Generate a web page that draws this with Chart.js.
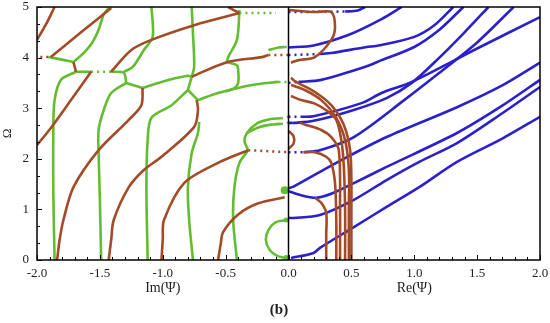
<!DOCTYPE html>
<html>
<head>
<meta charset="utf-8">
<script src="https://cdn.jsdelivr.net/npm/chart.js@4"></script>
<style>
  html, body { margin: 0; padding: 0; background: #fff; }
  #wrap { width: 550px; height: 323px; }
</style>
</head>
<body>
<div id="wrap"><canvas id="dispChart" width="550" height="323"></canvas></div>
<script>
// tick labels
const xTicks = [-2, -1.5, -1, -0.5, 0, 0.5, 1, 1.5, 2];
const yTicks = [0, 1, 2, 3, 4, 5];

// Im(Psi) side, green branches  [Im, Omega]
const imG1 = [[-1.86, 0], [-1.87, 1.3], [-1.87, 2.6], [-1.86, 3.16], [-1.81, 3.56], [-1.69, 3.72]];
const imG1c = [[-1.71, 3.91], [-1.8, 3.96], [-1.91, 4.01]];
const imG1d = [[-1.71, 3.91], [-1.63, 4.09], [-1.56, 4.3], [-1.51, 4.55], [-1.47, 4.85], [-1.43, 4.98]];
const imGg = [[-1.69, 3.72], [-1.57, 3.72]];
const imGj = [[-1.41, 3.72], [-1.31, 3.7], [-1.29, 3.5]];
const imG2 = [[-1.49, 0], [-1.5, 1.2], [-1.51, 2.11], [-1.51, 2.57], [-1.47, 2.96], [-1.41, 3.3], [-1.29, 3.5]];
const imGm = [[-1.29, 3.5], [-1.16, 3.4]];
const imGn = [[-1.16, 3.4], [-1.01, 3.52], [-0.8, 3.64], [-0.77, 3.62]];
const imG3 = [[-1.12, 0], [-1.13, 1.44], [-1.12, 2.37], [-1.09, 2.81], [-0.93, 3.06], [-0.8, 3.36]];
const imG3u = [[-1.09, 5.0], [-1.08, 4.41], [-1.15, 4.15], [-1.24, 3.81], [-1.31, 3.72]];
const imG4u = [[-0.77, 5.0], [-0.76, 4.49], [-0.75, 3.82], [-0.77, 3.62], [-0.8, 3.36]];
const imG4link = [[-0.8, 3.36], [-0.72, 3.16]];
const imGright = [[-0.72, 3.16], [-0.56, 3.3], [-0.29, 3.46], [-0.08, 3.52]];
const imG4l = [[-0.76, 0], [-0.79, 0.79], [-0.8, 1.44], [-0.77, 2.11], [-0.72, 2.51], [-0.71, 2.73]];
const imG5 = [[-0.41, 0], [-0.44, 0.79], [-0.43, 1.44], [-0.39, 1.92], [-0.32, 2.17]];
const imGfan1 = [[-0.32, 2.17], [-0.35, 2.35], [-0.33, 2.51], [-0.25, 2.7], [-0.15, 2.78], [-0.06, 2.8]];
const imGfan2 = [[-0.33, 2.51], [-0.24, 2.62], [-0.15, 2.67], [-0.06, 2.69]];
const imGtopR = [[-0.39, 4.94], [-0.41, 4.35], [-0.48, 4.01], [-0.49, 3.91]];
const imGloop = [[-0.49, 3.91], [-0.41, 3.85], [-0.4, 3.75], [-0.4, 3.5], [-0.43, 3.4], [-0.5, 3.33]];
const imGshort = [[-0.16, 4.15], [-0.08, 4.2], [-0.03, 4.21]];
const imCircle = [[0, 0.79], [-0.1, 0.75], [-0.16, 0.59], [-0.18, 0.4], [-0.15, 0.2], [-0.09, 0.08], [-0.02, 0.04]];

// Im(Psi) side, brown (complex) branches
const imBA = [[-2.0, 2.27], [-1.89, 2.61], [-1.73, 3.16], [-1.57, 3.72]];
const imBB = [[-1.84, 0], [-1.82, 0.4], [-1.79, 0.79], [-1.71, 1.44], [-1.51, 2.17], [-1.27, 2.77], [-1.17, 3.06], [-1.16, 3.4]];
const imBD = [[-1.43, 0], [-1.41, 0.4], [-1.39, 0.79], [-1.27, 1.44], [-1.15, 1.78], [-1.01, 2.04], [-0.75, 2.63], [-0.72, 2.96], [-0.73, 3.16]];
const imBC = [[-1.01, 0], [-1.0, 0.4], [-0.99, 0.79], [-0.83, 1.52], [-0.56, 1.92], [-0.32, 2.17]];
const imBE = [[-0.56, 0], [-0.54, 0.3], [-0.52, 0.55], [-0.4, 0.9], [-0.24, 1.12], [-0.03, 1.24]];
const imBK = [[-1.41, 3.72], [-1.25, 4.15], [-1.09, 4.35], [-0.75, 4.64], [-0.39, 4.88]];
const imBM = [[-0.77, 3.62], [-0.49, 3.91], [-0.21, 4.01], [-0.16, 4.05]];
const imBb = [[-1.89, 4.01], [-1.65, 4.5], [-1.41, 4.98]];
const imBa = [[-2.0, 4.35], [-1.93, 4.65], [-1.86, 5.0]];
const imBlink = [[-1.69, 3.72], [-1.71, 3.91]];
const imBtop = [[-0.48, 5.0], [-0.39, 4.88]];

// dotted joins to the axis
const dotA = [[-1.91, 4.01], [-2.0, 4.01]];
const dotB = [[-1.57, 3.72], [-1.41, 3.72]];
const dotC = [[-0.32, 2.17], [0, 2.13]];
const dotD = [[-0.08, 3.52], [0, 3.52]];
const dotE = [[-0.16, 4.05], [0, 4.05]];
const dotF = [[-0.39, 4.88], [-0.1, 4.88]];
const dotG = [[-0.06, 2.8], [0, 2.83]];
const dotH = [[-0.06, 2.69], [0, 2.71]];
const dotI = [[-0.03, 4.21], [0, 4.21]];

// Re(Psi) side, brown branches
const reV1 = [[0.30, 0], [0.30, 0.5], [0.30, 0.93], [0.26, 1.13], [0.21, 1.23]];
const reV2 = [[0.38, 0], [0.38, 0.8], [0.37, 1.52], [0.34, 1.92], [0.30, 2.04], [0.21, 2.13], [0.12, 2.13]];
const reV3 = [[0.41, 0], [0.41, 1.0], [0.40, 2.17], [0.34, 2.43], [0.26, 2.57], [0.14, 2.67], [0.09, 2.71]];
const reV4 = [[0.45, 0], [0.45, 1.0], [0.44, 1.84], [0.42, 2.37], [0.38, 2.77], [0.30, 2.96], [0.20, 3.1], [0.10, 3.16], [0.02, 3.24]];
const reV5 = [[0.48, 0], [0.48, 1.0], [0.48, 1.78], [0.45, 2.37], [0.38, 2.81], [0.26, 3.16], [0.13, 3.36], [0.02, 3.46]];
const reV6 = [[0.50, 0], [0.50, 1.0], [0.50, 1.58], [0.49, 2.17], [0.44, 2.67], [0.34, 3.06], [0.21, 3.32], [0.06, 3.52], [0.02, 3.6]];
const reTop = [[0.0, 4.94], [0.21, 4.9], [0.34, 4.9], [0.37, 4.6], [0.34, 4.35], [0.21, 4.01], [0.08, 3.95], [0.02, 3.9]];
const reLoop = [[0.0, 2.55], [0.04, 2.45], [0.04, 2.3], [0.0, 2.2]];

// Re(Psi) side, blue (real) branches
const reB49dot = [[0, 4.9], [0.45, 4.91]];
const reB49 = [[0.45, 4.91], [0.55, 4.93], [0.61, 5.0]];
const reB42 = [[0, 4.2], [0.2, 4.24], [0.48, 4.45], [0.74, 4.76], [0.9, 5.0]];
const reB405dot = [[0, 4.05], [0.25, 4.07]];
const reB405 = [[0.25, 4.07], [0.34, 4.09], [0.6, 4.2], [0.74, 4.25], [1.0, 4.41], [1.16, 4.64], [1.31, 5.0]];
const reB35dot = [[0, 3.5], [0.08, 3.52]];
const reB35 = [[0.08, 3.52], [0.26, 3.56], [0.6, 3.81], [0.74, 3.95], [1.0, 4.21], [1.2, 4.55], [1.39, 5.0]];
const reB283dot = [[0, 2.83], [0.1, 2.83]];
const reB283 = [[0.1, 2.83], [0.2, 2.84], [0.58, 3.1], [0.74, 3.3], [0.98, 3.52], [1.5, 4.18], [2.0, 4.8]];
const reB271 = [[0, 2.71], [0.05, 2.71], [0.2, 2.75], [0.5, 2.95], [0.78, 3.2], [0.98, 3.5], [1.2, 4.0], [1.4, 4.5], [1.59, 5.0]];
const reB213dot = [[0, 2.13], [0.12, 2.13]];
const reB213 = [[0.12, 2.13], [0.25, 2.17], [0.52, 2.43], [0.92, 3.16], [1.2, 3.7], [1.5, 4.3], [1.79, 5.0]];
const reB142r = [[0, 1.42], [0.04, 1.45], [0.38, 1.92], [0.78, 2.43], [1.34, 3.02], [1.7, 3.45], [2.0, 3.9]];
const reB142d = [[0, 1.36], [0.1, 1.28], [0.22, 1.23], [0.35, 1.32], [0.52, 1.52], [0.78, 1.84], [1.34, 2.51], [1.7, 3.05], [2.0, 3.56]];
const reB083 = [[0, 0.83], [0.04, 0.83], [0.25, 0.89], [0.52, 1.19], [0.78, 1.58], [1.04, 1.94], [1.34, 2.31], [1.7, 2.9], [2.0, 3.42]];
const reB006 = [[0.02, 0.04], [0.2, 0.14], [0.25, 0.24], [0.52, 0.65], [0.78, 1.05], [1.04, 1.44], [1.34, 1.94], [1.7, 2.4], [2.0, 2.83]];

// single points on the axis
const greenDots = [[-0.03, 1.38], [-0.02, 0.79], [-0.02, 0.05]];

const GREEN = '#63bd30';
const BROWN = '#a34b27';
const BLUE = '#2a20cc';

const pts = arr => arr.map(p => ({ x: p[0], y: p[1] }));
function curve(arr, color) {
  return { data: pts(arr), borderColor: color, borderWidth: 2.6, showLine: true,
           pointRadius: 0, tension: 0.3, fill: false };
}
function dotted(arr, color) {
  return { data: pts(arr), borderColor: color, borderWidth: 2.5, borderDash: [2, 4],
           showLine: true, pointRadius: 0, tension: 0, fill: false };
}

const datasets = [];
[imBA, imBB, imBD, imBC, imBE, imBK, imBM, imBb, imBa, imBlink, imBtop,
 reV1, reV2, reV3, reV4, reV5, reV6, reTop, reLoop].forEach(c => datasets.push(curve(c, BROWN)));
[imG1, imG1c, imG1d, imGg, imGj, imG2, imGm, imGn, imG3, imG3u, imG4u, imG4link, imGright, imG4l,
 imG5, imGfan1, imGfan2, imGtopR, imGloop, imGshort, imCircle].forEach(c => datasets.push(curve(c, GREEN)));
[reB49, reB42, reB405, reB35, reB283, reB271, reB213, reB142r, reB142d, reB083, reB006]
  .forEach(c => datasets.push(curve(c, BLUE)));
[dotA, dotC, dotE].forEach(c => datasets.push(dotted(c, BROWN)));
[dotB, dotD, dotF, dotG, dotH, dotI].forEach(c => datasets.push(dotted(c, GREEN)));
[reB49dot, reB405dot, reB35dot, reB283dot, reB213dot].forEach(c => datasets.push(dotted(c, BLUE)));
datasets.push({ data: pts(greenDots), showLine: false, pointRadius: [4, 2.5, 2.5],
                pointBackgroundColor: GREEN, pointBorderWidth: 0 });

// frame, centre axis, inward ticks, axis names and panel label
const framePlugin = {
  id: 'frame',
  afterDraw(chart) {
    const { ctx, chartArea: a, scales: { x, y } } = chart;
    ctx.save();
    ctx.strokeStyle = '#000';
    ctx.lineWidth = 1.5;
    ctx.strokeRect(a.left, a.top, a.right - a.left, a.bottom - a.top);
    ctx.beginPath();
    ctx.moveTo(x.getPixelForValue(0), a.top);
    ctx.lineTo(x.getPixelForValue(0), a.bottom);
    ctx.stroke();
    ctx.lineWidth = 1;
    ctx.beginPath();
    for (let i = -20; i <= 20; i++) {
      const px = Math.round(x.getPixelForValue(i / 10)) + 0.5;
      const len = i % 5 === 0 ? 5 : 3;
      ctx.moveTo(px, a.bottom);
      ctx.lineTo(px, a.bottom - len);
    }
    for (let i = 0; i <= 15; i++) {
      const py = Math.round(y.getPixelForValue(i / 3)) + 0.5;
      const len = i % 3 === 0 ? 5 : 3;
      ctx.moveTo(a.left, py);
      ctx.lineTo(a.left + len, py);
    }
    ctx.stroke();
    ctx.fillStyle = '#222';
    ctx.textAlign = 'center';
    ctx.textBaseline = 'middle';
    ctx.font = '14px "Liberation Serif", serif';
    ctx.fillText('Im(Ψ)', x.getPixelForValue(-1), 288);
    ctx.fillText('Re(Ψ)', x.getPixelForValue(1), 288);
    ctx.font = 'bold 15px "Liberation Serif", serif';
    ctx.fillText('(b)', 279, 310);
    ctx.restore();
  }
};

new Chart(document.getElementById('dispChart').getContext('2d'), {
  type: 'scatter',
  data: { datasets: datasets },
  options: {
    responsive: false,
    animation: false,
    devicePixelRatio: 1,
    layout: { padding: { top: 7, right: 10, left: 0, bottom: 0 } },
    plugins: { legend: { display: false }, tooltip: { enabled: false } },
    scales: {
      x: {
        type: 'linear', min: -2, max: 2,
        afterBuildTicks: s => { s.ticks = xTicks.map(v => ({ value: v })); },
        afterFit: s => { s.height = 63; s.paddingLeft = 0; s.paddingRight = 0; },
        ticks: { color: '#222', padding: 6, maxRotation: 0,
                 font: { family: '"Liberation Serif", serif', size: 13 },
                 callback: v => v.toFixed(1) },
        grid: { display: false, drawTicks: false },
        border: { display: false }
      },
      y: {
        type: 'linear', min: 0, max: 5,
        afterBuildTicks: s => { s.ticks = yTicks.map(v => ({ value: v })); },
        afterFit: s => { s.width = 37; s.paddingTop = 0; s.paddingBottom = 0; },
        ticks: { color: '#222', padding: 8,
                 font: { family: '"Liberation Serif", serif', size: 13 } },
        title: { display: true, text: 'Ω', color: '#222', padding: { top: 0, bottom: 0 },
                 font: { family: '"Liberation Serif", serif', size: 13 } },
        grid: { display: false, drawTicks: false },
        border: { display: false }
      }
    }
  },
  plugins: [framePlugin]
});
</script>
</body>
</html>
